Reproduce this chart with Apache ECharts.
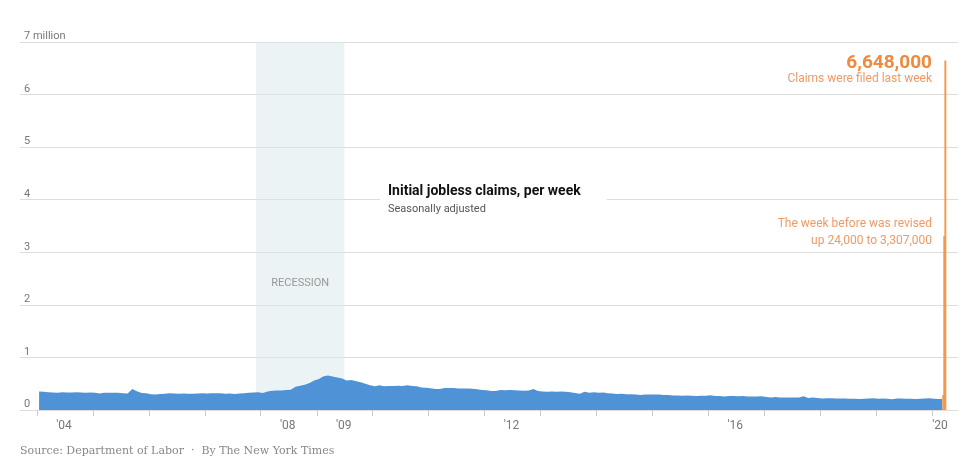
<!DOCTYPE html>
<html>
<head>
<meta charset="utf-8">
<script src="https://cdn.jsdelivr.net/npm/echarts@6/dist/echarts.min.js"></script>
<style>html,body{margin:0;padding:0;background:#fff}#chart{width:980px;height:460px}</style>
</head>
<body>
<div id="chart"></div>
<script>
// monthly average initial claims, thousands
const years = [2004, 2005, 2006, 2007, 2008, 2009, 2010, 2011, 2012, 2013, 2014, 2015, 2016, 2017, 2018, 2019];
const monthly = [
  [350, 345, 340, 335, 330, 340, 335, 335, 340, 335, 330, 335],
  [330, 315, 330, 330, 330, 330, 320, 315, 400, 355, 325, 320],
  [300, 295, 305, 310, 320, 315, 310, 315, 310, 310, 315, 320],
  [315, 320, 320, 320, 310, 315, 305, 315, 320, 330, 335, 340],
  [325, 350, 365, 370, 370, 380, 385, 440, 460, 480, 515, 560],
  [590, 640, 655, 635, 620, 600, 560, 570, 545, 530, 500, 470],
  [450, 470, 450, 455, 455, 460, 455, 470, 455, 450, 430, 425],
  [415, 400, 400, 420, 420, 420, 410, 410, 410, 405, 395, 380],
  [375, 360, 360, 380, 375, 380, 375, 370, 365, 370, 400, 360],
  [350, 345, 350, 345, 350, 345, 340, 325, 310, 345, 330, 340],
  [330, 335, 320, 315, 305, 310, 300, 300, 295, 285, 295, 295],
  [295, 295, 285, 285, 275, 275, 270, 275, 270, 265, 270, 270],
  [280, 265, 265, 255, 265, 265, 260, 265, 255, 255, 255, 260],
  [245, 240, 245, 240, 240, 240, 240, 240, 260, 230, 240, 230],
  [220, 225, 225, 220, 220, 220, 215, 215, 210, 215, 220, 225],
  [215, 220, 215, 205, 220, 220, 215, 215, 210, 215, 220, 225]
];
const weeks2020 = ['2020-01-15', '2020-02-15', '2020-03-07'];
const claims2020 = [215, 210, 211];
const spikeWeeks = ['2020-03-14', '2020-03-21', '2020-03-28'];
const spikeClaims = [282000, 3307000, 6648000];
const yTicks = [0, 1, 2, 3, 4, 5, 6, 7];
const labelYears = [2004, 2008, 2009, 2012, 2016, 2020];

const area = [];
years.forEach((y, i) => {
  monthly[i].forEach((v, m) => {
    area.push([`${y}-${String(m + 1).padStart(2, '0')}-15`, v * 1000]);
  });
});
weeks2020.forEach((d, i) => area.push([d, claims2020[i] * 1000]));
const bars = spikeWeeks.map((d, i) => [d, spikeClaims[i]]);

const chart = echarts.init(document.getElementById('chart'));
chart.setOption({
  animation: false,
  grid: {left: 20, right: 22, top: 42, bottom: 50},
  title: {
    text: 'Initial jobless claims, per week',
    subtext: 'Seasonally adjusted',
    left: 380, top: 178,
    backgroundColor: '#fff',
    padding: [6, 26, 6, 8],
    itemGap: 6,
    textStyle: {fontFamily: 'Roboto', fontSize: 14, fontWeight: 'bold', color: '#111'},
    subtextStyle: {fontFamily: 'Roboto', fontSize: 11, color: '#555'}
  },
  xAxis: {
    type: 'time',
    min: '2003-09-19',
    max: '2020-06-12',
    minInterval: 365.25 * 86400000,
    maxInterval: 365.25 * 86400000,
    axisLine: {show: false},
    axisTick: {show: true, length: 6, lineStyle: {color: '#ccc'}},
    splitLine: {show: false},
    axisLabel: {
      showMinLabel: false,
      showMaxLabel: false,
      margin: 10,
      formatter: function (val) {
        const y = new Date(val).getFullYear();
        if (!labelYears.includes(y)) return '';
        const s = "'" + String(y).slice(2);
        return y === 2020 ? '{b|' + s + '}' : '{a|' + s + '}';
      },
      rich: {
        a: {padding: [0, 0, 0, 54], color: '#777', fontSize: 12, fontFamily: 'Roboto'},
        b: {padding: [0, 0, 0, 16], color: '#777', fontSize: 12, fontFamily: 'Roboto'}
      }
    }
  },
  yAxis: {
    type: 'value',
    min: 0, max: 7000000, interval: 1000000,
    axisLine: {show: false},
    axisTick: {show: false},
    splitLine: {lineStyle: {color: '#ddd'}},
    axisLabel: {
      inside: true,
      verticalAlign: 'bottom',
      margin: 4,
      color: '#777',
      fontSize: 11,
      fontFamily: 'Roboto',
      formatter: v => {
        const n = v / 1000000;
        return n === yTicks[yTicks.length - 1] ? n + ' million' : String(n);
      }
    }
  },
  series: [
    {
      type: 'line',
      data: area,
      symbol: 'none',
      lineStyle: {width: 0},
      areaStyle: {color: '#4f93d6', opacity: 1},
      z: 3,
      markArea: {
        silent: true,
        itemStyle: {color: 'rgba(215,232,235,0.5)'},
        label: {show: true, position: 'inside', offset: [0, 57], color: '#999', fontSize: 11, fontFamily: 'Roboto'},
        data: [[{name: 'RECESSION', xAxis: '2007-12-01'}, {xAxis: '2009-06-30'}]]
      }
    },
    {
      type: 'bar',
      data: bars,
      barWidth: 2,
      itemStyle: {color: '#f29a52'},
      z: 4
    }
  ],
  graphic: [
    {type: 'text', right: 48, top: 54, style: {text: '6,648,000', fill: '#ef8a3e', font: 'bold 19px Roboto', textAlign: 'right'}},
    {type: 'text', right: 48, top: 73, style: {text: 'Claims were filed last week', fill: '#ef9a66', font: '12px Roboto', textAlign: 'right'}},
    {type: 'text', right: 48, top: 215, style: {text: 'The week before was revised\nup 24,000 to 3,307,000', fill: '#ef9a66', font: '12px Roboto', textAlign: 'right', lineHeight: 17}},
    {type: 'text', left: 20, top: 446, style: {text: 'Source: Department of Labor  ·  By The New York Times', fill: '#888', font: '11px "DejaVu Serif"'}}
  ]
});
</script>
</body>
</html>
